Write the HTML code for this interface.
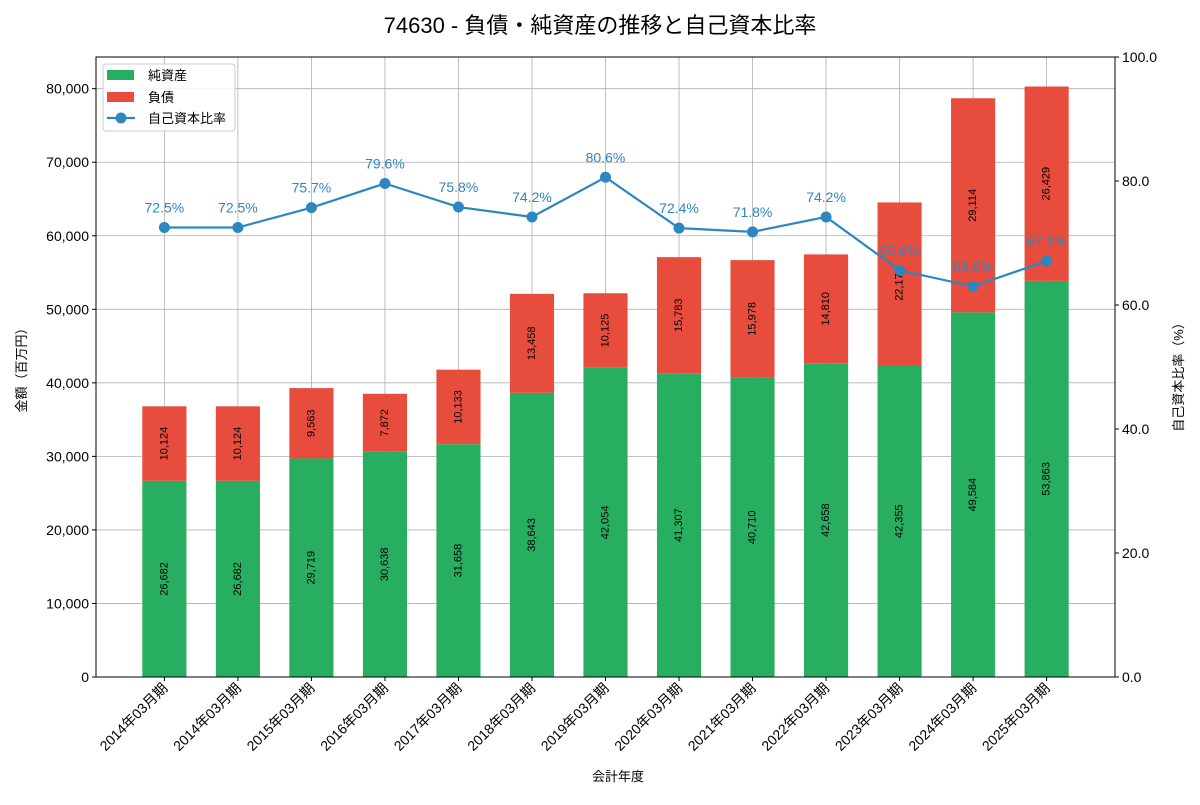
<!DOCTYPE html>
<html><head><meta charset="utf-8"><style>
body{margin:0;background:#fff;}
svg text{font-family:"Liberation Sans","Noto Sans CJK JP",sans-serif;}
</style></head><body>
<svg id="c" width="1200" height="800"></svg>
<script>
const categories=["2014年03月期","2014年03月期","2015年03月期","2016年03月期","2017年03月期","2018年03月期","2019年03月期","2020年03月期","2021年03月期","2022年03月期","2023年03月期","2024年03月期","2025年03月期"];
const equity=[26682,26682,29719,30638,31658,38643,42054,41307,40710,42658,42355,49584,53863];
const debt=[10124,10124,9563,7872,10133,13458,10125,15783,15978,14810,22177,29114,26429];
const ratio=[72.5,72.5,75.7,79.6,75.8,74.2,80.6,72.4,71.8,74.2,65.6,63.0,67.1];
const leftTicks=[0,10000,20000,30000,40000,50000,60000,70000,80000];
const rightTicks=[0,20,40,60,80,100];

const svg=document.getElementById('c');
const NS='http://www.w3.org/2000/svg';
const L=96,R=1115,T=57,B=677;
const yMax=84307;
function X(i){return L+(i+0.93)/13.86*(R-L);}
function Y(v){return B-v/yMax*(B-T);}
function Y2(v){return B-v/100*(B-T);}
function el(tag,attrs,name,text){const e=document.createElementNS(NS,tag);for(const k in attrs)e.setAttribute(k,attrs[k]);


if(text!==undefined)e.textContent=text;svg.appendChild(e);return e;}
const fmt=v=>v.toLocaleString('en-US');

el('text',{x:600,y:33,'text-anchor':'middle','font-size':22,fill:'#000'},'chart-title','74630 - 負債・純資産の推移と自己資本比率');
// grid
leftTicks.forEach(t=>{el('line',{x1:L,x2:R,y1:Y(t),y2:Y(t),stroke:'#b0b0b0','stroke-width':0.8},'y-gridline');});
categories.forEach((c,i)=>{el('line',{x1:X(i),x2:X(i),y1:T,y2:B,stroke:'#b0b0b0','stroke-width':0.8},'x-gridline');});
// bars
const bw=0.6/13.86*(R-L);
categories.forEach((c,i)=>{
 const x=X(i)-bw/2;
 el('rect',{x:x,y:Y(equity[i]),width:bw,height:B-Y(equity[i]),fill:'#27ae60'},'bar-equity');
 el('rect',{x:x,y:Y(equity[i]+debt[i]),width:bw,height:Y(equity[i])-Y(equity[i]+debt[i]),fill:'#e74c3c'},'bar-debt');
 const ey=Y(equity[i]/2), dy=Y(equity[i]+debt[i]/2);
 el('text',{x:X(i),y:ey,'font-size':11,'text-anchor':'middle','dominant-baseline':'middle',transform:`rotate(-90 ${X(i)} ${ey})`},'equity-label',fmt(equity[i]));
 el('text',{x:X(i),y:dy,'font-size':11,'text-anchor':'middle','dominant-baseline':'middle',transform:`rotate(-90 ${X(i)} ${dy})`},'debt-label',fmt(debt[i]));
});
// line
el('polyline',{points:ratio.map((v,i)=>X(i)+','+Y2(v)).join(' '),fill:'none',stroke:'#2e86c1','stroke-width':2.2},'ratio-line');
ratio.forEach((v,i)=>{
 el('circle',{cx:X(i),cy:Y2(v),r:5.5,fill:'#2e86c1'},'ratio-point');
 el('text',{x:X(i),y:Y2(v)-15,'font-size':14,'text-anchor':'middle',fill:'#2e86c1'},'ratio-label',v.toFixed(1)+'%');
});
// axes frame
el('rect',{x:L,y:T,width:R-L,height:B-T,fill:'none',stroke:'#000','stroke-width':1},'plot-frame');
leftTicks.forEach(t=>{el('line',{x1:L-4,x2:L,y1:Y(t),y2:Y(t),stroke:'#000'},'y-tick');
 el('text',{x:L-7,y:Y(t)+5,'font-size':14,'text-anchor':'end'},'y-tick-label',fmt(t));});
rightTicks.forEach(t=>{el('line',{x1:R,x2:R+4,y1:Y2(t),y2:Y2(t),stroke:'#000'},'y2-tick');
 el('text',{x:R+7,y:Y2(t)+5,'font-size':14},'y2-tick-label',t.toFixed(1));});
categories.forEach((c,i)=>{const x=X(i);el('line',{x1:x,x2:x,y1:B,y2:B+4,stroke:'#000'},'x-tick');
 el('text',{x:x+4,y:B+12,'font-size':14,'text-anchor':'end',transform:`rotate(-45 ${x+4} ${B+12})`},'x-tick-label',c);});
el('text',{x:618,y:781,'font-size':13,'text-anchor':'middle'},'x-axis-title','会計年度');
el('text',{x:26,y:367,'font-size':13,'text-anchor':'middle',transform:'rotate(-90 26 367)'},'y-axis-title','金額（百万円）');
el('text',{x:1183,y:374,'font-size':13,'text-anchor':'middle',transform:'rotate(-90 1183 374)'},'y2-axis-title','自己資本比率（%）');
// legend
el('rect',{x:103,y:64,width:132,height:67,fill:'#fff','fill-opacity':0.85,stroke:'#ccc',rx:3},'legend');
el('rect',{x:107,y:70,width:27,height:10,fill:'#27ae60'},'legend-swatch-equity');
el('text',{x:148,y:80,'font-size':13},'legend-label-equity','純資産');
el('rect',{x:107,y:92,width:27,height:10,fill:'#e74c3c'},'legend-swatch-debt');
el('text',{x:148,y:102,'font-size':13},'legend-label-debt','負債');
el('line',{x1:107,x2:135,y1:118,y2:118,stroke:'#2e86c1','stroke-width':2.2},'legend-line-ratio');
el('circle',{cx:121,cy:118,r:5.5,fill:'#2e86c1'},'legend-marker-ratio');
el('text',{x:148,y:123,'font-size':13},'legend-label-ratio','自己資本比率');
</script>
</body></html>
